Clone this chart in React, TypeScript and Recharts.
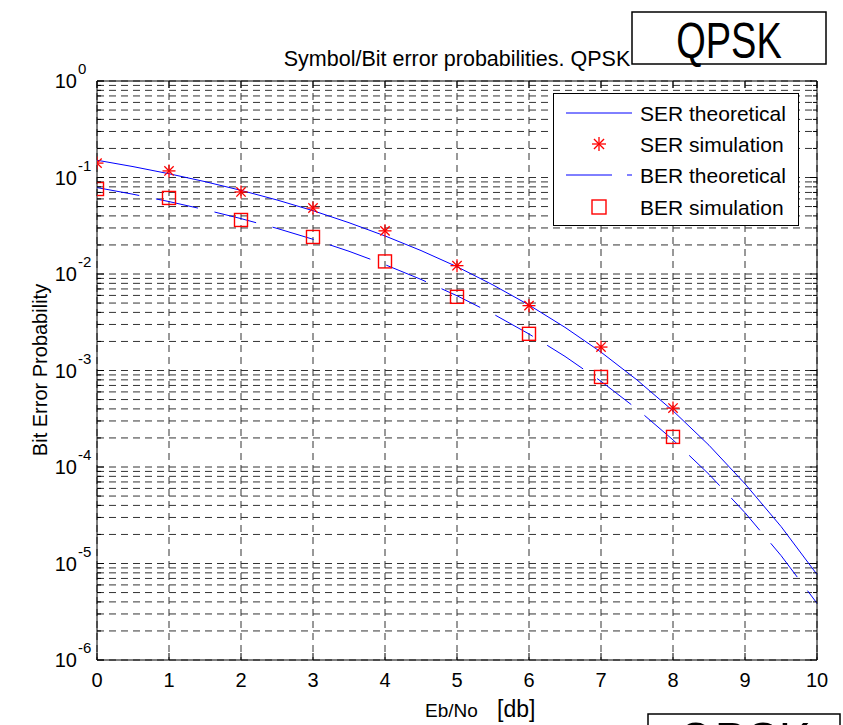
import { ComposedChart, Line, Scatter, XAxis, YAxis, CartesianGrid, ReferenceArea, Legend } from 'recharts'

// simulated points, one per dB
const EBNO_SIM = [0, 1, 2, 3, 4, 5, 6, 7, 8]
const SER_SIM = [0.141, 0.117, 0.0708, 0.0483, 0.028, 0.0122, 0.0047, 0.00175, 0.000408]
const BER_SIM = [0.076, 0.0614, 0.0363, 0.0242, 0.0135, 0.0058, 0.0024, 0.000857, 0.000205]

// theoretical curves, every 0.5 dB
const EBNO_THEORY = [0, 0.5, 1, 1.5, 2, 2.5, 3, 3.5, 4, 4.5, 5, 5.5, 6, 6.5, 7, 7.5, 8, 8.5, 9, 9.5, 10]
const SER_THEORY = [
  0.151, 0.1297, 0.1094, 0.0906, 0.0736, 0.0585, 0.0453, 0.034, 0.0248, 0.0175, 0.0119,
  0.0077, 0.00477, 0.0028, 0.00155, 0.000798, 0.000382, 0.000168, 6.7e-5, 2.42e-5, 7.7e-6,
]
const BER_THEORY = [
  0.0786, 0.0671, 0.0563, 0.0464, 0.0375, 0.0297, 0.0229, 0.0172, 0.0125, 0.00879, 0.00595,
  0.00386, 0.00239, 0.0014, 0.000773, 0.000399, 0.000191, 8.4e-5, 3.36e-5, 1.21e-5, 3.87e-6,
]

const X_TICKS = [0, 1, 2, 3, 4, 5, 6, 7, 8, 9, 10]
const Y_DECADES = [1e-6, 1e-5, 1e-4, 1e-3, 1e-2, 1e-1, 1]
const Y_EXPONENTS = ['-6', '-5', '-4', '-3', '-2', '-1', '0']
const MINOR_STEPS = [2, 3, 4, 5, 6, 7, 8, 9]

const LEGEND_LABELS = ['SER theoretical', 'SER simulation', 'BER theoretical', 'BER simulation']

const FONT = 'Liberation Sans, Arial, Helvetica, sans-serif'
const PLOT_LEFT = 97
const PLOT_RIGHT = 817
const PLOT_TOP = 81
const PLOT_BOTTOM = 660
const BLUE = '#0000ff'
const RED = '#ff0000'

const yTicks: number[] = []
Y_DECADES.forEach((d, i) => {
  yTicks.push(d)
  if (i < Y_DECADES.length - 1) MINOR_STEPS.forEach((m) => yTicks.push(d * m))
})

const serTheory = EBNO_THEORY.map((x, i) => ({ x, y: SER_THEORY[i] }))
const berTheory = EBNO_THEORY.map((x, i) => ({ x, y: BER_THEORY[i] }))
const serSim = EBNO_SIM.map((x, i) => ({ x, y: SER_SIM[i] }))
const berSim = EBNO_SIM.map((x, i) => ({ x, y: BER_SIM[i] }))

function Star({ cx, cy, r = 6.5 }: { cx: number; cy: number; r?: number }) {
  const d = r * 0.72
  return (
    <g stroke={RED} strokeWidth={1.3}>
      <line x1={cx - r} y1={cy} x2={cx + r} y2={cy} />
      <line x1={cx} y1={cy - r} x2={cx} y2={cy + r} />
      <line x1={cx - d} y1={cy - d} x2={cx + d} y2={cy + d} />
      <line x1={cx - d} y1={cy + d} x2={cx + d} y2={cy - d} />
    </g>
  )
}

function Square({ cx, cy, s = 13 }: { cx: number; cy: number; s?: number }) {
  return <rect x={cx - s / 2} y={cy - s / 2} width={s} height={s} fill="none" stroke={RED} strokeWidth={1.4} />
}

function YTick(props: any) {
  const { y, payload } = props
  const v = payload.value
  const idx = Y_DECADES.findIndex((d) => Math.abs(d - v) / d < 1e-6)
  const len = idx >= 0 ? 7 : 4
  return (
    <g>
      <line x1={PLOT_LEFT} x2={PLOT_LEFT + len} y1={y} y2={y} stroke="#000" />
      <line x1={PLOT_RIGHT - len} x2={PLOT_RIGHT} y1={y} y2={y} stroke="#000" />
      {idx >= 0 && (
        <>
          <text x={77} y={y + 7} textAnchor="end" fontSize={20} fontFamily={FONT} fill="#000">
            10
          </text>
          <text x={78} y={y - 7} textAnchor="start" fontSize={15} fontFamily={FONT} fill="#000">
            {Y_EXPONENTS[idx]}
          </text>
        </>
      )}
    </g>
  )
}

function XTick(props: any) {
  const { x, payload } = props
  return (
    <g>
      <line x1={x} x2={x} y1={PLOT_BOTTOM} y2={PLOT_BOTTOM - 7} stroke="#000" />
      <line x1={x} x2={x} y1={PLOT_TOP} y2={PLOT_TOP + 7} stroke="#000" />
      <text x={x} y={687} textAnchor="middle" fontSize={20} fontFamily={FONT} fill="#000">
        {payload.value}
      </text>
    </g>
  )
}

function LegendBox() {
  const rows = [20, 51, 82, 114]
  return (
    <svg width={246} height={133} style={{ display: 'block' }}>
      <rect x={0.5} y={0.5} width={245} height={132} fill="#fff" stroke="#000" strokeWidth={1} />
      <line x1={13} x2={79} y1={rows[0]} y2={rows[0]} stroke={BLUE} />
      <Star cx={46} cy={rows[1]} r={7} />
      <line x1={13} x2={59} y1={rows[2]} y2={rows[2]} stroke={BLUE} />
      <line x1={74} x2={79} y1={rows[2]} y2={rows[2]} stroke={BLUE} />
      <Square cx={46} cy={rows[3]} s={14} />
      {LEGEND_LABELS.map((t, i) => (
        <text key={t} x={87} y={rows[i] + 7.5} fontSize={21} fontFamily={FONT} fill="#000">
          {t}
        </text>
      ))}
    </svg>
  )
}

export default function App() {
  return (
    <div style={{ position: 'absolute', left: 0, top: 0, width: 843, height: 725, background: '#fff', overflow: 'hidden' }}>
      <ComposedChart width={843} height={725} margin={{ top: 81, right: 26, bottom: 0, left: 0 }}>
        <CartesianGrid stroke="#333" strokeDasharray="7 5" />
        <XAxis
          type="number"
          dataKey="x"
          domain={[0, 10]}
          ticks={X_TICKS}
          interval={0}
          height={65}
          axisLine={false}
          tickLine={false}
          tick={<XTick />}
          allowDataOverflow
        />
        <YAxis
          type="number"
          scale="log"
          domain={[1e-6, 1]}
          ticks={yTicks}
          interval={0}
          width={97}
          axisLine={false}
          tickLine={false}
          tick={<YTick />}
          allowDataOverflow
        />
        <ReferenceArea x1={0} x2={10} y1={1e-6} y2={1} fill="none" fillOpacity={0} stroke="#000" strokeWidth={1} />
        <Line data={serTheory} dataKey="y" type="linear" stroke={BLUE} strokeWidth={1} dot={false} isAnimationActive={false} />
        <Line
          data={berTheory}
          dataKey="y"
          type="linear"
          stroke={BLUE}
          strokeWidth={1}
          strokeDasharray="43 17"
          dot={false}
          isAnimationActive={false}
        />
        <Scatter data={serSim} dataKey="y" shape={(p: any) => <Star cx={p.cx} cy={p.cy} />} isAnimationActive={false} />
        <Scatter data={berSim} dataKey="y" shape={(p: any) => <Square cx={p.cx} cy={p.cy} />} isAnimationActive={false} />
        <Legend
          layout="vertical"
          align="center"
          verticalAlign="middle"
          wrapperStyle={{ position: 'absolute', left: 553, top: 93, width: 246, height: 133 }}
          content={() => <LegendBox />}
        />
      </ComposedChart>

      <svg width={843} height={725} style={{ position: 'absolute', left: 0, top: 0, pointerEvents: 'none' }}>
        <text x={457} y={66} textAnchor="middle" fontSize={21.5} fontFamily={FONT} fill="#000">
          Symbol/Bit error probabilities. QPSK
        </text>
        <rect x={632} y={12} width={194} height={52} fill="#fff" stroke="#000" strokeWidth={1.5} />
        <text transform="translate(729,58) scale(1,1.33)" textAnchor="middle" fontSize={38} fontFamily={FONT} fill="#000">
          QPSK
        </text>
        <rect x={648} y={714} width={192} height={60} fill="#fff" stroke="#000" strokeWidth={1.5} />
        <text transform="translate(744,763) scale(1,1.2)" textAnchor="middle" fontSize={48} fontFamily={FONT} fill="#000">
          QPSK
        </text>
        <text transform="translate(47,370) rotate(-90)" textAnchor="middle" fontSize={20} fontFamily={FONT} fill="#000">
          Bit Error Probability
        </text>
        <text x={425} y={717} fontSize={19} fontFamily={FONT} fill="#000">
          Eb/No
        </text>
        <text x={497} y={717} fontSize={23} fontFamily={FONT} fill="#000">
          [db]
        </text>
      </svg>
    </div>
  )
}
